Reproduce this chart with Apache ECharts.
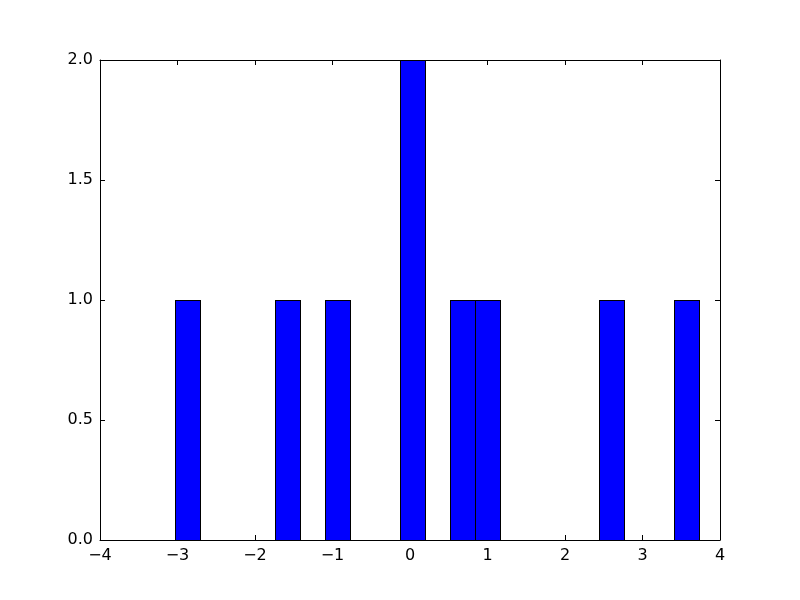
<!DOCTYPE html>
<html>
<head>
<meta charset="utf-8">
<script src="https://cdn.jsdelivr.net/npm/echarts@6/dist/echarts.min.js"></script>
<style>html,body{margin:0;padding:0;background:#fff;}#chart{width:800px;height:600px;}</style>
</head>
<body>
<div id="chart"></div>
<script>
// Histogram bins (left edge of each non-empty bin) and their counts
const binLefts = [-3.032, -1.743, -1.099, -0.132, 0.512, 0.834, 2.445, 3.412];
const binWidth = 0.3222;
const counts = [1, 1, 1, 2, 1, 1, 1, 1];
const xTicks = [-4, -3, -2, -1, 0, 1, 2, 3, 4];
const yTicks = [0.0, 0.5, 1.0, 1.5, 2.0];

const chart = echarts.init(document.getElementById('chart'), null, {renderer: 'canvas'});
const fontFamily = 'DejaVu Sans';
const minus = v => String(v).replace('-', '\u2212');

const baseAxisLine = {show: true, onZero: false, lineStyle: {color: '#000', width: 1}};
const tick = {show: true, inside: true, length: 5, lineStyle: {color: '#000', width: 1}};

const data = binLefts.map((l, i) => [l, l + binWidth, counts[i]]);

chart.setOption({
  animation: false,
  backgroundColor: '#fff',
  grid: {left: 100, right: 80, top: 60, bottom: 60, containLabel: false},
  xAxis: [
    {type: 'value', min: xTicks[0], max: xTicks[xTicks.length - 1], interval: 1,
     axisLine: baseAxisLine, axisTick: tick, splitLine: {show: false},
     axisLabel: {color: '#000', fontSize: 16, fontFamily, margin: 8, formatter: v => minus(v)}},
    {type: 'value', position: 'top', min: xTicks[0], max: xTicks[xTicks.length - 1], interval: 1,
     axisLine: baseAxisLine, axisTick: tick, splitLine: {show: false}, axisLabel: {show: false}}
  ],
  yAxis: [
    {type: 'value', min: yTicks[0], max: yTicks[yTicks.length - 1], interval: 0.5,
     axisLine: baseAxisLine, axisTick: tick, splitLine: {show: false},
     axisLabel: {color: '#000', fontSize: 16, fontFamily, margin: 7, formatter: v => v.toFixed(1)}},
    {type: 'value', position: 'right', min: yTicks[0], max: yTicks[yTicks.length - 1], interval: 0.5,
     axisLine: baseAxisLine, axisTick: tick, splitLine: {show: false}, axisLabel: {show: false}}
  ],
  series: [{
    type: 'custom',
    xAxisIndex: 0, yAxisIndex: 0,
    clip: false,
    data: data,
    encode: {x: [0, 1], y: 2},
    renderItem: function (params, api) {
      const p0 = api.coord([api.value(0), api.value(2)]);
      const p1 = api.coord([api.value(1), 0]);
      const X0 = Math.round(p0[0]), X1 = Math.round(p1[0]);
      const Y0 = Math.round(p0[1]), Y1 = Math.round(p1[1]);
      const black = {fill: '#000000'};
      return {
        type: 'group',
        children: [
          {type: 'rect', shape: {x: X0, y: Y0, width: X1 - X0 + 1, height: Y1 - Y0}, style: {fill: '#0000ff'}},
          {type: 'rect', z2: 10, shape: {x: X0, y: Y0, width: 1, height: Y1 - Y0}, style: black},
          {type: 'rect', z2: 10, shape: {x: X1, y: Y0, width: 1, height: Y1 - Y0}, style: black},
          {type: 'rect', z2: 10, shape: {x: X0, y: Y0, width: X1 - X0 + 1, height: 1}, style: black}
        ]
      };
    }
  }]
});
</script>
</body>
</html>
